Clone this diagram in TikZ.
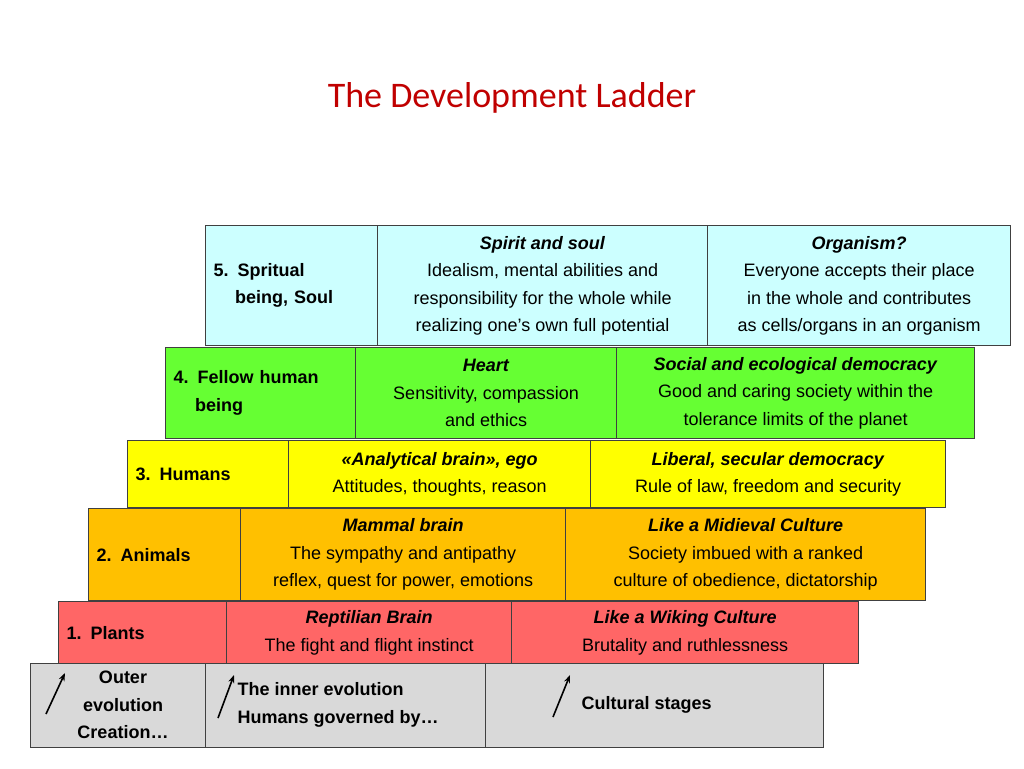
\documentclass[tikz,border=0pt]{standalone}
\usepackage{fontspec}
\setmainfont{Liberation Sans}
\newfontfamily\titlefont{Carlito}
\usetikzlibrary{arrows.meta,positioning,calc}

\definecolor{rowfive}{HTML}{CCFFFF}
\definecolor{rowfour}{HTML}{66FF33}
\definecolor{rowthree}{HTML}{FFFF00}
\definecolor{rowtwo}{HTML}{FFC000}
\definecolor{rowone}{HTML}{FF6666}
\definecolor{rowzero}{HTML}{D9D9D9}
\definecolor{titlered}{HTML}{C00000}

\begin{document}
\begin{tikzpicture}[x=1pt,y=-1pt,
    cell/.style={rectangle, draw=black!75, line width=1.2pt, anchor=north west, inner sep=0pt,
        align=center, font=\fontsize{18}{27.5}\selectfont},
    leftcell/.style={cell, align=left, inner xsep=8pt},
    uparrow/.style={-{Stealth[length=8pt,width=6pt]}, line width=1.6pt}
]
    \useasboundingbox (0,0) rectangle (1024,768);

    % Title
    \node[font=\titlefont\fontsize{36}{40}\selectfont, text=titlered] (title) at (512,98) {The Development Ladder};

    % Row 5
    \node[leftcell, fill=rowfive, minimum width=172pt, minimum height=120pt, text width=156pt] (s1) at (205,225)
        {\textbf{5. Spritual}\\\hspace*{1.2em}\textbf{being, Soul}};
    \node[cell, fill=rowfive, minimum width=330pt, minimum height=120pt] (s2) at (377,225)
        {\textbf{\textit{Spirit and soul}}\\Idealism, mental abilities and\\responsibility for the whole while\\realizing one's own full potential};
    \node[cell, fill=rowfive, minimum width=303pt, minimum height=120pt] (s3) at (707,225)
        {\textbf{\textit{Organism?}}\\Everyone accepts their place\\in the whole and contributes\\as cells/organs in an organism};

    % Row 4
    \node[leftcell, fill=rowfour, minimum width=190pt, minimum height=91pt, text width=174pt] (f1) at (165,347)
        {\textbf{4. Fellow human}\\\hspace*{1.2em}\textbf{being}};
    \node[cell, fill=rowfour, minimum width=261pt, minimum height=91pt] (f2) at (355,347)
        {\textbf{\textit{Heart}}\\Sensitivity, compassion\\and ethics};
    \node[cell, fill=rowfour, minimum width=358pt, minimum height=91pt] (f3) at (616,347)
        {\textbf{\textit{Social and ecological democracy}}\\Good and caring society within the\\tolerance limits of the planet};

    % Row 3
    \node[leftcell, fill=rowthree, minimum width=161pt, minimum height=67pt, text width=145pt] (h1) at (127,440)
        {\textbf{3. Humans}};
    \node[cell, fill=rowthree, minimum width=302pt, minimum height=67pt] (h2) at (288,440)
        {\textbf{\textit{«Analytical brain», ego}}\\Attitudes, thoughts, reason};
    \node[cell, fill=rowthree, minimum width=355pt, minimum height=67pt] (h3) at (590,440)
        {\textbf{\textit{Liberal, secular democracy}}\\Rule of law, freedom and security};

    % Row 2
    \node[leftcell, fill=rowtwo, minimum width=152pt, minimum height=92pt, text width=136pt] (a1) at (88,508)
        {\textbf{2. Animals}};
    \node[cell, fill=rowtwo, minimum width=325pt, minimum height=92pt] (a2) at (240,508)
        {\textbf{\textit{Mammal brain}}\\The sympathy and antipathy\\reflex, quest for power, emotions};
    \node[cell, fill=rowtwo, minimum width=360pt, minimum height=92pt] (a3) at (565,508)
        {\textbf{\textit{Like a Midieval Culture}}\\Society imbued with a ranked\\culture of obedience, dictatorship};

    % Row 1
    \node[leftcell, fill=rowone, minimum width=168pt, minimum height=62pt, text width=152pt] (p1) at (58,601)
        {\textbf{1. Plants}};
    \node[cell, fill=rowone, minimum width=285pt, minimum height=62pt] (p2) at (226,601)
        {\textbf{\textit{Reptilian Brain}}\\The fight and flight instinct};
    \node[cell, fill=rowone, minimum width=347pt, minimum height=62pt] (p3) at (511,601)
        {\textbf{\textit{Like a Wiking Culture}}\\Brutality and ruthlessness};

    % Row 0
    \node[cell, fill=rowzero, minimum width=175pt, minimum height=84pt] (g1) at (30,663) {};
    \node[cell, fill=rowzero, minimum width=280pt, minimum height=84pt] (g2) at (205,663) {};
    \node[cell, fill=rowzero, minimum width=338pt, minimum height=84pt] (g3) at (485,663) {};
    \node[font=\bfseries\fontsize{18}{27.5}\selectfont, align=center] (g1t) at (123,705) {Outer\\evolution\\Creation…};
    \node[font=\bfseries\fontsize{18}{27.5}\selectfont, align=left, anchor=west] (g2t) at (234,705) {The inner evolution\\Humans governed by…};
    \node[font=\bfseries\fontsize{18}{27.5}\selectfont, anchor=west] (g3t) at (578,705) {Cultural stages};

    % Arrows
    \coordinate (u1) at (46,714); \coordinate (v1) at (65,673);
    \coordinate (u2) at (218,718); \coordinate (v2) at (234,675);
    \coordinate (u3) at (553,717); \coordinate (v3) at (570,675);
    \foreach \i in {1,2,3} \draw[uparrow] (u\i) -- (v\i);
\end{tikzpicture}
\end{document}
